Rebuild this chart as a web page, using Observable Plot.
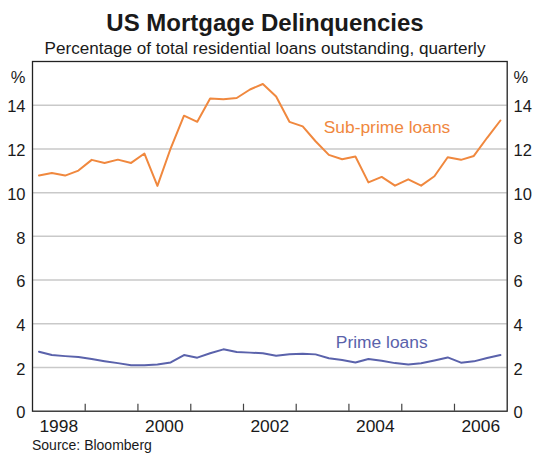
<!DOCTYPE html>
<html>
<head>
<meta charset="utf-8">
<script src="https://cdn.jsdelivr.net/npm/d3@7"></script>
<script src="https://cdn.jsdelivr.net/npm/@observablehq/plot@0.6"></script>
<style>
  html, body { margin: 0; padding: 0; background: #fff; }
  #wrap { position: relative; width: 534px; height: 453px; font-family: "Liberation Sans", Arial, sans-serif; color: #1a1a1a; overflow: hidden; }
  #wrap .t { position: absolute; left: 0; width: 534px; text-align: center; line-height: 1; white-space: nowrap; }
  #title { top: 11.4px; font-size: 24px; font-weight: bold; margin-left: -2px; }
  #subtitle { top: 39.9px; font-size: 17.1px; margin-left: -2px; }
  #source { position: absolute; left: 32px; top: 437.6px; font-size: 14px; line-height: 1; white-space: nowrap; }
  #chart { position: absolute; left: 0; top: 0; }
</style>
</head>
<body>
<div id="wrap">
  <div id="chart"></div>
  <div class="t" id="title">US Mortgage Delinquencies</div>
  <div class="t" id="subtitle">Percentage of total residential loans outstanding, quarterly</div>
  <div id="source">Source: Bloomberg</div>
</div>
<script>
// Quarters (categories)
const quarters = [
  "1998Q1","1998Q2","1998Q3","1998Q4",
  "1999Q1","1999Q2","1999Q3","1999Q4",
  "2000Q1","2000Q2","2000Q3","2000Q4",
  "2001Q1","2001Q2","2001Q3","2001Q4",
  "2002Q1","2002Q2","2002Q3","2002Q4",
  "2003Q1","2003Q2","2003Q3","2003Q4",
  "2004Q1","2004Q2","2004Q3","2004Q4",
  "2005Q1","2005Q2","2005Q3","2005Q4",
  "2006Q1","2006Q2","2006Q3","2006Q4"
];
// Sub-prime delinquency rate, %
const subprime = [
  10.78, 10.90, 10.78, 11.01,
  11.50, 11.36, 11.51, 11.36,
  11.79, 10.31, 12.03, 13.52,
  13.24, 14.31, 14.27, 14.33,
  14.72, 14.97, 14.40, 13.24,
  13.03, 12.35, 11.73, 11.53,
  11.65, 10.47, 10.72, 10.32,
  10.61, 10.32, 10.75, 11.62,
  11.50, 11.68, 12.51, 13.30
];
// Prime delinquency rate, %
const prime = [
  2.72, 2.57, 2.52, 2.48,
  2.39, 2.29, 2.20, 2.10,
  2.10, 2.14, 2.23, 2.57,
  2.45, 2.65, 2.83, 2.71,
  2.68, 2.65, 2.54, 2.61,
  2.63, 2.60, 2.42, 2.34,
  2.23, 2.39, 2.31, 2.20,
  2.14, 2.19, 2.32, 2.46,
  2.22, 2.28, 2.43, 2.57
];
// Tick labels
const yTicks = [0, 2, 4, 6, 8, 10, 12, 14];
const gridValues = [2, 4, 6, 8, 10, 12, 14];
const yearLabels = [1998, 2000, 2002, 2004, 2006];
const yearBoundaries = [1999, 2000, 2001, 2002, 2003, 2004, 2005, 2006];

const orange = "#f0883e";
const blue = "#5a62ab";

function quarterMid(q) {
  const y = +q.slice(0, 4), n = +q.slice(5);
  return new Date(Date.UTC(y, (n - 1) * 3 + 1, 15));
}
const subData = quarters.map((q, i) => ({date: quarterMid(q), value: subprime[i]}));
const primeData = quarters.map((q, i) => ({date: quarterMid(q), value: prime[i]}));
const yearStart = y => new Date(Date.UTC(y, 0, 1));
const yearMid = y => new Date(Date.UTC(y, 6, 2));

const chart = Plot.plot({
  width: 534,
  height: 453,
  marginLeft: 32,
  marginRight: 27.3,
  marginTop: 61,
  marginBottom: 42.3,
  style: {fontFamily: "'Liberation Sans', Arial, sans-serif", fontSize: "16px", color: "#1a1a1a", background: "transparent"},
  x: {type: "utc", domain: [yearStart(1998), yearStart(2007)]},
  y: {domain: [0, 16]},
  marks: [
    Plot.ruleY(gridValues, {stroke: "#c9c9c9", strokeWidth: 1.5}),
    Plot.ruleX(yearBoundaries.map(yearStart), {y1: 0, y2: 0.32, stroke: "#444", strokeWidth: 1.2}),
    Plot.line(subData, {x: "date", y: "value", stroke: orange, strokeWidth: 2}),
    Plot.line(primeData, {x: "date", y: "value", stroke: blue, strokeWidth: 2}),
    Plot.text(["Sub-prime loans"], {x: new Date(Date.UTC(2004, 9, 8)), y: 12.98, dx: -2.5, text: d => d, fill: orange, fontSize: 17.4}),
    Plot.text(["Prime loans"], {x: new Date(Date.UTC(2004, 7, 29)), y: 3.15, dx: -2, text: d => d, fill: blue, fontSize: 17.4}),
    Plot.frame({stroke: "#222", strokeWidth: 1.3}),
    Plot.axisY(yTicks, {anchor: "left", tickSize: 0, tickPadding: 7, dy: 2, label: null, fontSize: 16.5, fill: "#1a1a1a"}),
    Plot.axisY(yTicks, {anchor: "right", tickSize: 0, tickPadding: 6.3, dy: 2, label: null, fontSize: 16.5, fill: "#1a1a1a"}),
    Plot.text(["%"], {frameAnchor: "top-left", dx: -7, dy: 9.6, textAnchor: "end", text: d => d, fontSize: 16.5, fill: "#1a1a1a"}),
    Plot.text(["%"], {frameAnchor: "top-right", dx: 6.3, dy: 9.6, textAnchor: "start", text: d => d, fontSize: 16.5, fill: "#1a1a1a"}),
    Plot.axisX(yearLabels.map(yearMid), {anchor: "bottom", tickSize: 0, tickPadding: 8.8, tickFormat: d3.utcFormat("%Y"), label: null, fontSize: 17.4, fill: "#1a1a1a"})
  ]
});
document.getElementById("chart").appendChild(chart);
</script>
</body>
</html>
